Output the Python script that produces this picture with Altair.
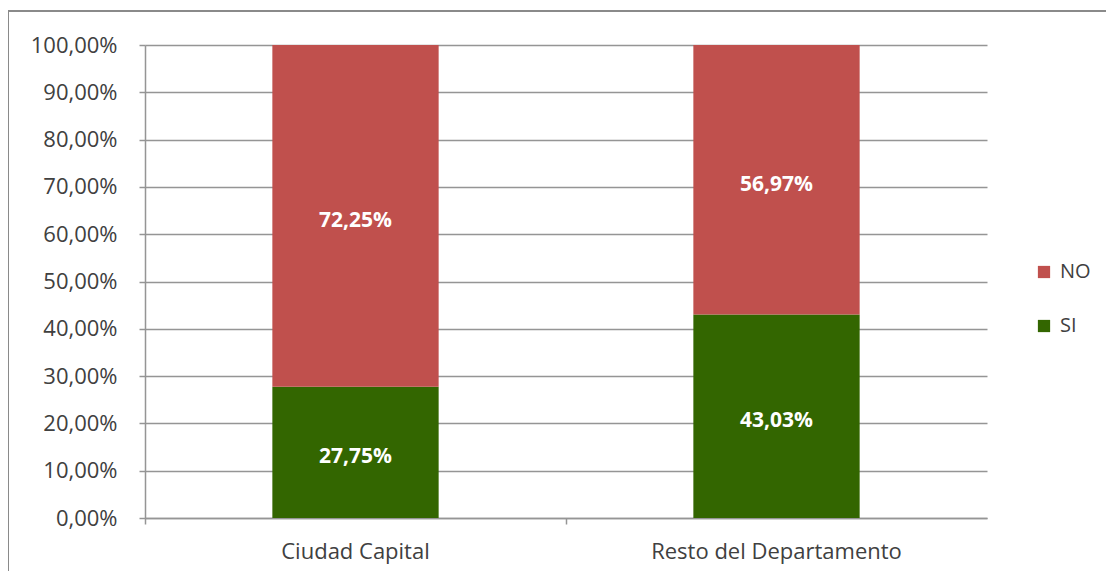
import altair as alt
import pandas as pd

categories = ["Ciudad Capital", "Resto del Departamento"]
series = ["SI", "NO"]
si_values = [27.75, 43.03]
no_values = [72.25, 56.97]
y_ticks = [0, 10, 20, 30, 40, 50, 60, 70, 80, 90, 100]

rows = []
for i, c in enumerate(categories):
    rows.append({"category": c, "series": "SI", "value": si_values[i], "order": 0})
    rows.append({"category": c, "series": "NO", "value": no_values[i], "order": 1})
df = pd.DataFrame(rows)

FONT = "Open Sans"
GRID = "#959595"
TXT = "#404040"

base = alt.Chart(df).transform_stack(
    stack="value", groupby=["category"], as_=["v0", "v1"],
    sort=[alt.SortField("order")]
).transform_calculate(
    mid="(datum.v0 + datum.v1) / 2",
    label="replace(format(datum.value, '.2f'), '.', ',') + '%'"
)

xscale = alt.Scale(domain=categories, paddingInner=0, paddingOuter=0)
yscale = alt.Scale(domain=[0, 100], nice=False)

y_axis = alt.Axis(values=y_ticks, grid=True, gridColor=GRID, gridWidth=1.5,
                  domainColor=GRID, domainWidth=1.5, tickColor=GRID, tickWidth=1.5,
                  tickSize=6, labelFont=FONT, labelFontSize=22,
                  labelColor=TXT, labelPadding=22,
                  labelExpr="replace(format(datum.value / 100, '.2%'), '.', ',')")

bars = base.mark_bar(width=alt.RelativeBandSize(0.395)).encode(
    x=alt.X("category:N", scale=xscale, sort=categories, title=None,
            axis=alt.Axis(orient="bottom", labelAngle=0, ticks=False, domain=False, grid=False,
                          labelFont=FONT, labelFontSize=22, labelColor=TXT,
                          labelPadding=23, labelLimit=500)),
    y=alt.Y("v0:Q", scale=yscale, title=None, axis=y_axis),
    y2="v1:Q",
    color=alt.Color("series:N",
                    scale=alt.Scale(domain=["NO", "SI"], range=["#C0504D", "#336600"]),
                    legend=alt.Legend(title=None, orient="none", legendX=889, legendY=217,
                                      symbolType="square", symbolSize=150,
                                      symbolStrokeWidth=0, labelFont=FONT,
                                      labelFontSize=20, labelColor=TXT,
                                      rowPadding=34, labelOffset=6)),
)

xticks = base.mark_point(opacity=0).encode(
    x=alt.X("category:N", scale=xscale, sort=categories, title=None,
            axis=alt.Axis(orient="bottom", labels=False, ticks=True, bandPosition=0,
                          domain=True, domainColor=GRID, domainWidth=1.5, tickColor=GRID,
                          tickWidth=1.5, tickSize=6, grid=False, title=None)),
)

texts = base.mark_text(color="white", font=FONT, fontSize=21, fontWeight="bold", dy=5).encode(
    x=alt.X("category:N", scale=xscale, sort=categories, axis=None),
    y=alt.Y("mid:Q", scale=yscale, title=None, axis=y_axis),
    text="label:N",
)

border = alt.Chart(alt.Data(values=[{}])).mark_rect(
    fill=None, stroke="#8a8a8a", strokeWidth=2
).encode(
    x=alt.value(-137), x2=alt.value(1000), y=alt.value(-34), y2=alt.value(600)
)

chart = alt.layer(bars, xticks, texts, border).resolve_axis(x="independent").properties(
    width=842, height=473,
    autosize=alt.AutoSizeParams(type="none"),
    padding={"left": 137, "top": 37, "right": 119, "bottom": 53},
).configure(background="white").configure_view(stroke=None)

chart.save("out.html", embed_options={"renderer": "svg", "actions": False})
